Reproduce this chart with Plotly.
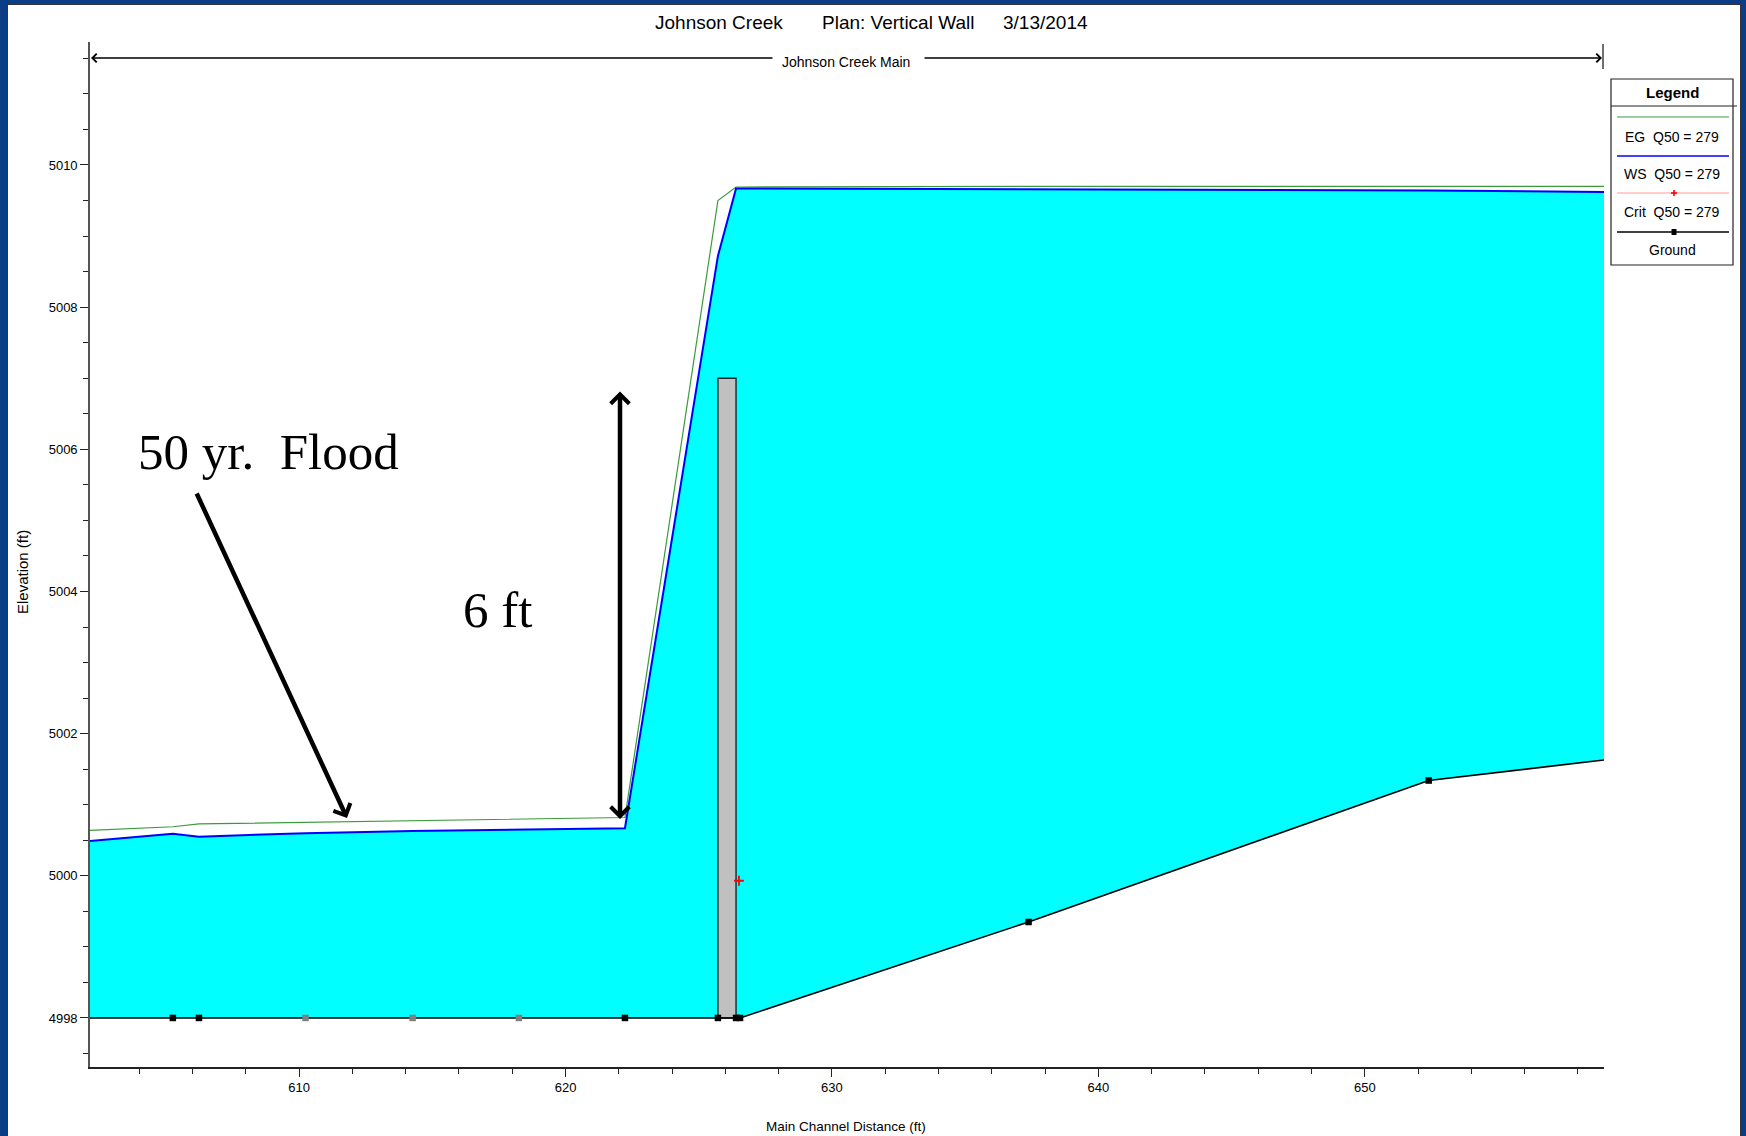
import plotly.graph_objects as go

# ---------------- data ----------------
station = [602.15, 605.26, 606.24, 610.24, 614.26, 618.25, 622.23, 625.72, 626.40, 626.55, 637.38, 652.40, 658.98]
ground = [4998.0, 4998.0, 4998.0, 4998.0, 4998.0, 4998.0, 4998.0, 4998.0, 4998.0, 4998.0, 4999.35, 5001.34, 5001.63]
ws = [5000.49, 5000.59, 5000.55, 5000.60, 5000.63, 5000.65, 5000.67, 5008.72, 5009.67, 5009.67, 5009.66, 5009.64, 5009.62]
eg = [5000.64, 5000.69, 5000.73, 5000.75, 5000.77, 5000.79, 5000.82, 5009.50, 5009.69, 5009.69, 5009.70, 5009.70, 5009.70]
ground_marker_color = ["rgba(0,0,0,0)", "#000000", "#000000", "#808080", "#808080", "#808080",
                       "#000000", "#000000", "#000000", "#000000", "#000000", "#000000", "rgba(0,0,0,0)"]
wall_x = [625.72, 626.40]
wall_bottom = 4998.0
wall_top = 5007.0
crit_x = [626.51]
crit_y = [4999.93]
x_ticks = [610, 620, 630, 640, 650]
y_ticks = [4998, 5000, 5002, 5004, 5006, 5008, 5010]
x_range = [602.15, 658.98]
y_range = [4997.31, 5011.73]

FONT = "Liberation Sans Narrow, Arial Narrow, Arial, sans-serif"
W, H = 1746, 1136
PL, PR, PT, PB = 90, 1604, 42, 1067


def px(x):
    return (x - PL) / (PR - PL)


def py(y):
    return (PB - y) / (PB - PT)


fig = go.Figure()

# water fill (WS down to ground)
fig.add_trace(go.Scatter(
    x=station + station[::-1], y=ws + ground[::-1], fill="toself",
    fillcolor="#00ffff", line=dict(width=0), mode="lines", hoverinfo="skip"))

# wall
fig.add_trace(go.Scatter(
    x=[wall_x[0], wall_x[1], wall_x[1], wall_x[0], wall_x[0]],
    y=[wall_bottom, wall_bottom, wall_top, wall_top, wall_bottom],
    fill="toself", fillcolor="#c0c0c0", mode="lines",
    line=dict(color="#222222", width=1.4), hoverinfo="skip"))

# EG
fig.add_trace(go.Scatter(x=station, y=eg, mode="lines",
                         line=dict(color="#3c9a3c", width=1.2), hoverinfo="skip"))
# WS
fig.add_trace(go.Scatter(x=station, y=ws, mode="lines",
                         line=dict(color="#0000ff", width=2), hoverinfo="skip"))
# Ground
fig.add_trace(go.Scatter(x=station, y=ground, mode="lines+markers",
                         line=dict(color="#000000", width=1.6),
                         marker=dict(symbol="square", size=6.5, color=ground_marker_color,
                                     line=dict(width=0)),
                         hoverinfo="skip"))
# Crit
fig.add_trace(go.Scatter(x=crit_x, y=crit_y, mode="markers",
                         marker=dict(symbol="cross-thin", size=7, color="red",
                                     line=dict(color="red", width=1.8)),
                         hoverinfo="skip"))

shapes = []
annotations = []

# blue frame
BLUE = "#0b3d87"
shapes += [
    dict(type="rect", xref="paper", yref="paper", x0=px(0), x1=px(7), y0=py(H), y1=py(0),
         fillcolor=BLUE, line=dict(width=0), layer="above"),
    dict(type="rect", xref="paper", yref="paper", x0=px(0), x1=px(W), y0=py(4), y1=py(0),
         fillcolor=BLUE, line=dict(width=0), layer="above"),
    dict(type="rect", xref="paper", yref="paper", x0=px(1741), x1=px(W), y0=py(H), y1=py(0),
         fillcolor=BLUE, line=dict(width=0), layer="above"),
    dict(type="line", xref="paper", yref="paper", x0=px(7), x1=px(1741), y0=py(4.5), y1=py(4.5),
         line=dict(color="#333333", width=1), layer="above"),
    dict(type="line", xref="paper", yref="paper", x0=px(7.5), x1=px(7.5), y0=py(4), y1=py(H),
         line=dict(color="#333333", width=1), layer="above"),
    dict(type="line", xref="paper", yref="paper", x0=px(1740.5), x1=px(1740.5), y0=py(4), y1=py(H),
         line=dict(color="#333333", width=1), layer="above"),
]

# title
for txt, cx in [("Johnson Creek", 719), ("Plan: Vertical Wall", 898), ("3/13/2014", 1045)]:
    annotations.append(dict(text=txt, x=px(cx), y=py(23), xref="paper", yref="paper",
                            showarrow=False, xanchor="center", yanchor="middle",
                            font=dict(family=FONT, size=19, color="black")))

# reach line
annotations.append(dict(text="Johnson Creek Main", x=px(846), y=py(62), xref="paper", yref="paper",
                        showarrow=False, xanchor="center", yanchor="middle",
                        font=dict(family=FONT, size=14, color="black")))
annotations.append(dict(text="", x=px(91), y=py(58), xref="paper", yref="paper",
                        ax=774 - 91, ay=0, showarrow=True, arrowhead=4, arrowsize=1.2,
                        arrowwidth=1.4, arrowcolor="black"))
annotations.append(dict(text="", x=px(1602), y=py(58), xref="paper", yref="paper",
                        ax=923 - 1602, ay=0, showarrow=True, arrowhead=4, arrowsize=1.2,
                        arrowwidth=1.4, arrowcolor="black"))
shapes.append(dict(type="line", xref="paper", yref="paper", x0=px(1603), x1=px(1603),
                   y0=py(44), y1=py(69), line=dict(color="#333333", width=1.4)))

# axis titles
annotations.append(dict(text="Elevation (ft)", x=px(22), y=py(572), xref="paper", yref="paper",
                        showarrow=False, textangle=-90, xanchor="center", yanchor="middle",
                        font=dict(family=FONT, size=15, color="black")))
annotations.append(dict(text="Main Channel Distance (ft)", x=px(846), y=py(1126), xref="paper",
                        yref="paper", showarrow=False, xanchor="center", yanchor="middle",
                        font=dict(family=FONT, size=13.5, color="black")))

# callouts
SERIF = "Liberation Serif, Times New Roman, serif"
annotations.append(dict(text="50 yr.&nbsp;&nbsp;Flood", x=px(268), y=py(452), xref="paper", yref="paper",
                        showarrow=False, xanchor="center", yanchor="middle",
                        font=dict(family=SERIF, size=51, color="black")))
annotations.append(dict(text="6 ft", x=px(497), y=py(610), xref="paper", yref="paper",
                        showarrow=False, xanchor="center", yanchor="middle",
                        font=dict(family=SERIF, size=51, color="black")))
annotations.append(dict(text="", x=px(347), y=py(818), xref="paper", yref="paper",
                        ax=196 - 347, ay=492 - 818, showarrow=True, arrowhead=4, arrowsize=0.8,
                        arrowwidth=4.5, arrowcolor="black"))
annotations.append(dict(text="", x=px(620), y=py(819), xref="paper", yref="paper",
                        ax=0, ay=390 - 819, showarrow=True, arrowhead=4, startarrowhead=4,
                        arrowside="end+start", arrowsize=0.8, startarrowsize=0.8,
                        arrowwidth=4.5, arrowcolor="black"))

# legend box
LX0, LX1, LY0, LY1 = 1611, 1733, 79, 265
shapes.append(dict(type="rect", xref="paper", yref="paper", x0=px(LX0), x1=px(LX1),
                   y0=py(LY1), y1=py(LY0), line=dict(color="#222222", width=1.2),
                   fillcolor="white"))
shapes.append(dict(type="line", xref="paper", yref="paper", x0=px(LX0), x1=px(1737),
                   y0=py(106), y1=py(106), line=dict(color="#222222", width=1.2)))
annotations.append(dict(text="<b>Legend</b>", x=px(1672), y=py(92), xref="paper", yref="paper",
                        showarrow=False, xanchor="center", yanchor="middle",
                        font=dict(family=FONT, size=15, color="black")))
leg_items = [
    ("EG  Q50 = 279", 117, 137, "#3c9a3c", 1.2, None),
    ("WS  Q50 = 279", 156, 174, "#0000ff", 1.6, None),
    ("Crit  Q50 = 279", 193, 212, "#ff9a9a", 1.2, "plus"),
    ("Ground", 232, 250, "#000000", 1.4, "square"),
]
for txt, ly, ty, col, lw, mk in leg_items:
    shapes.append(dict(type="line", xref="paper", yref="paper", x0=px(1617), x1=px(1729),
                       y0=py(ly), y1=py(ly), line=dict(color=col, width=lw)))
    if mk == "plus":
        shapes.append(dict(type="line", xref="paper", yref="paper", x0=px(1671), x1=px(1677),
                           y0=py(ly), y1=py(ly), line=dict(color="red", width=1.6)))
        shapes.append(dict(type="line", xref="paper", yref="paper", x0=px(1674), x1=px(1674),
                           y0=py(ly - 3), y1=py(ly + 3), line=dict(color="red", width=1.6)))
    elif mk == "square":
        shapes.append(dict(type="rect", xref="paper", yref="paper", x0=px(1671.5), x1=px(1676.5),
                           y0=py(ly + 3), y1=py(ly - 3), fillcolor="black", line=dict(width=0)))
    annotations.append(dict(text=txt.replace("  ", "&nbsp;&nbsp;"), x=px(1672), y=py(ty),
                            xref="paper", yref="paper", showarrow=False,
                            xanchor="center", yanchor="middle",
                            font=dict(family=FONT, size=14, color="black")))

fig.update_layout(
    width=W, height=H,
    margin=dict(l=PL, r=W - PR, t=PT, b=H - PB, pad=0),
    paper_bgcolor="white", plot_bgcolor="white",
    showlegend=False, hovermode=False,
    shapes=shapes, annotations=annotations,
    xaxis=dict(range=x_range, tickmode="array", tickvals=x_ticks,
               ticktext=[str(v) for v in x_ticks],
               ticks="outside", ticklen=8, tickwidth=1, tickcolor="#222222",
               minor=dict(dtick=2, tick0=600, ticks="outside", ticklen=5, tickcolor="#222222",
                          showgrid=False),
               showgrid=False, zeroline=False, showline=True, linecolor="#222222", linewidth=1.6,
               tickfont=dict(family=FONT, size=13, color="black"), fixedrange=True),
    yaxis=dict(range=y_range, tickmode="array", tickvals=y_ticks,
               ticktext=[str(v) for v in y_ticks],
               ticks="outside", ticklen=8, tickwidth=1, tickcolor="#222222",
               minor=dict(dtick=0.5, tick0=4998, ticks="outside", ticklen=5, tickcolor="#222222",
                          showgrid=False),
               showgrid=False, zeroline=False, showline=True, linecolor="#555555", linewidth=1.6,
               tickfont=dict(family=FONT, size=13, color="black"), fixedrange=True),
)

fig.write_html("out.html")
